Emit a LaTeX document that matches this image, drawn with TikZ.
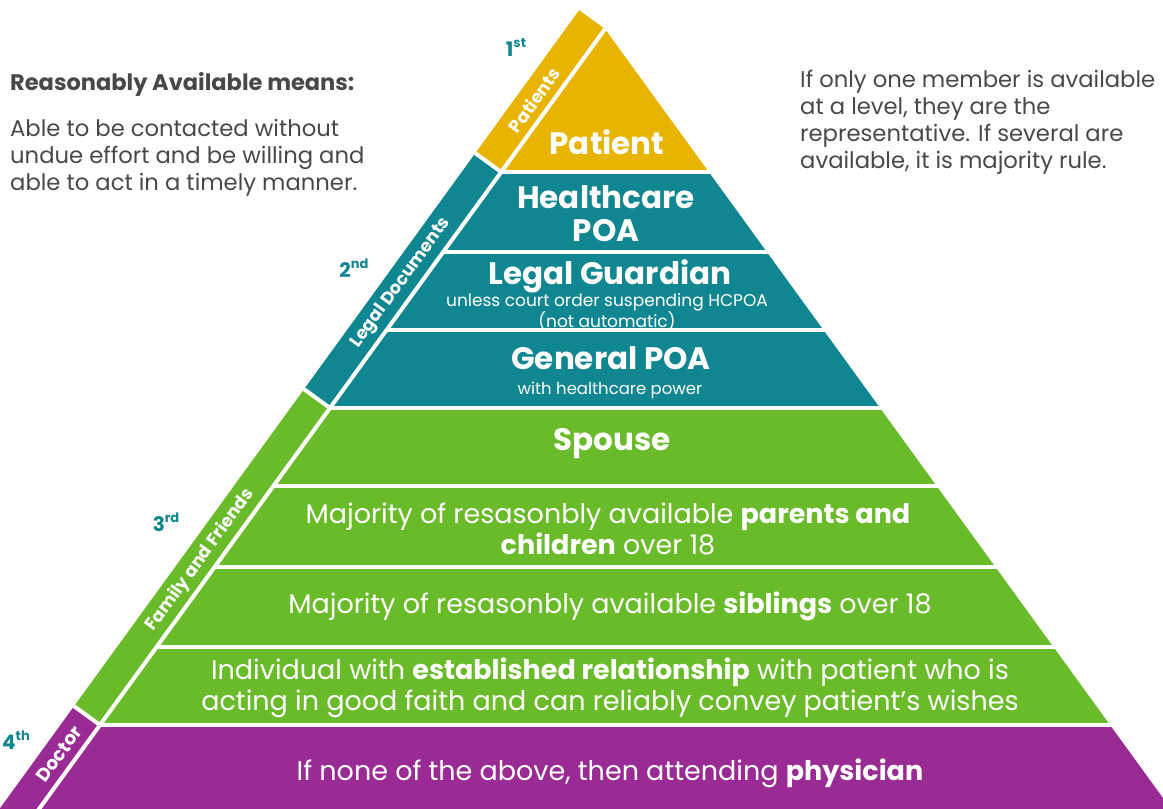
\documentclass[tikz,border=0pt]{standalone}
\usepackage{fontspec}
\setmainfont{Poppins}
\definecolor{gold}{RGB}{233,180,0}
\definecolor{tealc}{RGB}{16,134,145}
\definecolor{greenc}{RGB}{106,187,42}
\definecolor{purplec}{RGB}{155,43,148}
\definecolor{txt}{RGB}{72,72,72}
\newcommand{\pyL}[1]{605-0.7256*(#1-29)}
\newcommand{\pyR}[1]{605+0.7256*(#1-29)}
\newcommand{\fs}[2]{\fontsize{#1}{#2}\selectfont}
\newcommand{\rk}[2]{#1\raisebox{0.45em}{\fs{13}{13}#2}}
\begin{document}
\begin{tikzpicture}[x=1pt,y=-1pt,
  gap/.style={draw=white,line width=4pt},
  big/.style={text=white,font=\bfseries\fs{31}{33},align=center,inner sep=0pt},
  mid/.style={text=white,font=\fs{27}{31},align=center,inner sep=0pt},
  small/.style={text=white,font=\fs{17}{14},align=center,inner sep=0pt},
  striplab/.style={text=white,font=\bfseries\fs{17.5}{17.5},rotate=54,inner sep=0pt},
  rank/.style={text=tealc,font=\bfseries\fs{20}{20},inner sep=0pt},
  side/.style={text=txt,font=\fs{22.7}{27},align=left,inner sep=0pt,anchor=north west}
]
\useasboundingbox (0,0) rectangle (1163,809);
% pyramid bands
\fill[gold]    (605,29) -- ({\pyR{172}},172) -- ({\pyL{172}},172) -- cycle;
\fill[tealc]   ({\pyL{172}},172) -- ({\pyR{172}},172) -- ({\pyR{408}},408) -- ({\pyL{408}},408) -- cycle;
\fill[greenc]  ({\pyL{408}},408) -- ({\pyR{408}},408) -- ({\pyR{725}},725) -- ({\pyL{725}},725) -- cycle;
\fill[purplec] ({\pyL{725}},725) -- ({\pyR{725}},725) -- ({\pyR{830}},830) -- ({\pyL{830}},830) -- cycle;
% strip
\begin{scope}[shift={(-25.9,-18.8)}]
\coordinate (n0) at (605,29);
\coordinate (n1) at ({\pyL{172}},172);
\coordinate (n2) at ({\pyL{408}},408);
\coordinate (n3) at ({\pyL{725}},725);
\coordinate (n4) at ({\pyL{830}},830);
\end{scope}
\coordinate (p0) at (605,29);
\coordinate (p1) at ({\pyL{172}},172);
\coordinate (p2) at ({\pyL{408}},408);
\coordinate (p3) at ({\pyL{725}},725);
\coordinate (p4) at ({\pyL{830}},830);
\fill[gold] (p0) -- (n0) -- (n1) -- (p1) -- cycle;
\fill[tealc] (p1) -- (n1) -- (n2) -- (p2) -- cycle;
\fill[greenc] (p2) -- (n2) -- (n3) -- (p3) -- cycle;
\fill[purplec] (p3) -- (n3) -- (n4) -- (p4) -- cycle;
% white gaps
\draw[gap] (p0) -- (p4);
\foreach \y in {172,252,330,408,486,567,647,725}{
  \draw[gap] ({\pyL{\y}},\y) -- ({\pyR{\y}+3},\y);
}
\draw[gap] (p1) -- (n1);
\draw[gap] (p2) -- (n2);
\draw[gap] (p3) -- (n3);
% strip labels
\node[striplab] (sPat) at ({\pyL{100}-19.5},100) {Patients};
\node[striplab] (sLeg) at ({\pyL{283}-19.5},283) {Legal Documents};
\node[striplab] (sFam) at ({\pyL{560}-19.5},560) {Family and Friends};
\node[striplab,font=\bfseries\fs{18.5}{18.5}] (sDoc) at ({\pyL{754}-19.5},754) {Doctor};
% ranks
\node[rank] (r1) at (516,47) {\rk{1}{st}};
\node[rank] (r2) at (354,268) {\rk{2}{nd}};
\node[rank] (r3) at (166,522) {\rk{3}{rd}};
\node[rank] (r4) at (16,740) {\rk{4}{th}};
% pyramid texts
\node[big] (tPat) at (607,142) {Patient};
\node[big] (tHc) at (606,214) {Healthcare\\POA};
\node[big] (tLg) at (610,276) {Legal Guardian};
\node[small] (tLgs) at (607,312) {unless court order suspending HCPOA\\(not automatic)};
\node[big] (tGp) at (611,358) {General POA};
\node[small,font=\fs{16.5}{16.5}] (tGps) at (610,390) {with healthcare power};
\node[big] (tSp) at (612,444) {Spouse};
\node[mid] (tPc) at (608,529) {Majority of resasonbly available \textbf{parents and}\\\textbf{children} over 18};
\node[mid] (tSb) at (610,606) {Majority of resasonbly available \textbf{siblings} over 18};
\node[mid] (tInd) at (610,688) {Individual with \textbf{established relationship} with patient who is\\acting in good faith and can reliably convey patient’s wishes};
\node[mid] (tPhy) at (610,773) {If none of the above, then attending \textbf{physician}};
% side texts
\node[side,font=\bfseries\fs{22.5}{24}] (hdr) at (10,72) {Reasonably Available means:};
\node[side] (lpar) at (10,119) {Able to be contacted without\\undue effort and be willing and\\able to act in a timely manner.};
\node[side] (rpar) at (800,70) {If only one member is available\\at a level, they are the\\representative. If several are\\available, it is majority rule.};
\end{tikzpicture}
\end{document}
